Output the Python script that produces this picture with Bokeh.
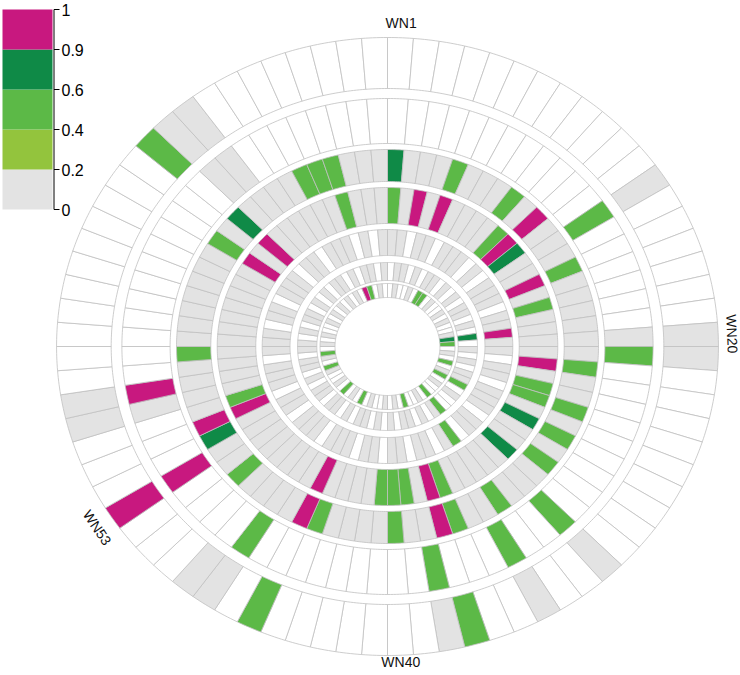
import numpy as np
from bokeh.plotting import figure
from bokeh.models import Range1d, ColumnDataSource
from bokeh.embed import file_html
from bokeh.resources import INLINE
from bokeh.core.properties import value

N = 80
segments = [f"WN{i+1}" for i in range(N)]

# value codes: None = no data (white)
_ = None
g = 0.1    # 0 - 0.2
y = 0.3    # 0.2 - 0.4
G = 0.5    # 0.4 - 0.6
D = 0.75   # 0.6 - 0.9
M = 0.95   # 0.9 - 1

ring1 = [_, _, _, _, _, _, _, _, _, _,
         _, _, g, _, _, _, _, _, _, g,
         g, _, _, _, _, _, _, _, _, _,
         g, _, _, g, _, _, G, g, _, _,
         _, _, _, _, _, G, _, g, g, _,
         _, _, M, _, _, _, g, g, _, _,
         _, _, _, _, _, _, _, _, _, G,
         g, g, _, _, _, _, _, _, _, _]
ring2 = [_, _, _, _, _, _, _, _, _, _,
         _, _, G, _, _, _, _, _, _, g,
         G, _, _, _, _, _, _, _, _, _,
         G, _, _, G, _, _, _, G, _, _,
         _, _, _, _, _, _, _, G, _, _,
         _, _, M, _, _, _, g, M, _, _,
         _, _, _, _, _, _, _, _, _, _,
         g, g, _, _, _, _, _, _, _, _]
ring3 = [D, g, g, g, G, g, g, g, G, g,
         M, g, g, g, G, g, g, g, g, g,
         g, G, g, g, G, g, G, g, G, g,
         g, g, G, g, g, G, M, g, g, G,
         g, g, g, g, G, M, g, g, g, g,
         G, g, g, D, M, g, g, g, g, G,
         g, g, g, g, g, g, g, G, g, D,
         g, g, g, g, G, G, G, g, g, g]
ring4 = [G, g, M, g, M, g, g, g, g, G,
         M, D, g, g, M, g, G, g, g, g,
         g, M, g, G, G, g, D, g, g, D,
         g, g, g, g, g, G, M, g, G, G,
         G, g, g, g, g, M, g, g, g, g,
         g, g, g, g, M, G, g, g, g, g,
         g, g, g, g, g, g, g, M, g, M,
         g, g, g, g, g, g, G, g, g, g]
ring5 = [g, g, _, g, g, _, g, g, g, _,
         g, _, g, g, g, _, g, g, M, g,
         g, _, g, g, _, g, g, g, _, g,
         g, _, G, g, _, g, g, _, g, g,
         _, g, g, _, g, g, g, _, g, g,
         g, _, g, g, _, g, g, g, _, g,
         g, g, _, g, g, _, g, g, g, _,
         g, g, _, g, g, g, _, g, _, g]
ring6 = [_, g, g, _, g, _, g, g, _, g,
         _, g, _, g, g, _, g, _, D, _,
         g, _, g, _, g, g, G, _, g, _,
         _, G, g, _, g, _, g, g, _, g,
         _, g, _, g, g, _, g, _, g, g,
         _, g, g, _, g, _, g, g, _, g,
         g, _, g, _, g, g, _, g, _, g,
         _, g, g, _, g, _, g, g, _, g]
ring7 = [_, g, _, _, g, _, G, G, _, g,
         _, _, g, _, g, _, _, g, D, G,
         _, g, _, G, _, g, G, _, g, _,
         _, G, _, g, _, _, G, _, g, _,
         g, _, _, g, _, G, _, g, _, G,
         _, g, _, _, g, G, _, g, G, _,
         g, _, g, _, _, g, _, g, _, g,
         _, g, _, g, _, M, G, _, g, _]
rings = [ring1, ring2, ring3, ring4, ring5, ring6, ring7]

label_idx = [0, 19, 39, 52]

legend_stops = [0, 0.2, 0.4, 0.6, 0.9, 1]
palette = ["#e3e3e3", "#93c43d", "#5cb947", "#0f8a47", "#c8187f"]

# layout (vertical pixel units; horizontal stretched by sx)
r_in = [258, 203, 165, 123, 91, 66, 49]
r_out = [309, 248, 197, 159, 117, 84, 63]
label_r = [324, 322, 316, 326]
sx = 1.071
cx, cy = 387, 346
W_PX, H_PX = 740, 675


def color_of(v):
    if v is None:
        return "#ffffff"
    for i in range(len(palette)):
        if v < legend_stops[i + 1] or i == len(palette) - 1:
            return palette[i]


xs, ys, cols = [], [], []
step = 360.0 / N
for ri, vals in enumerate(rings):
    for k, v in enumerate(vals):
        t = np.radians(np.linspace(k * step, (k + 1) * step, 8))
        a, b = r_out[ri], r_in[ri]
        px = np.concatenate([a * np.sin(t), b * np.sin(t[::-1])])
        py = np.concatenate([a * np.cos(t), b * np.cos(t[::-1])])
        xs.append(px.tolist())
        ys.append(py.tolist())
        cols.append(color_of(v))

p = figure(width=W_PX, height=H_PX, output_backend="svg", toolbar_location=None,
           x_range=Range1d((0 - cx) / sx, (W_PX - cx) / sx),
           y_range=Range1d(cy - H_PX, cy),
           x_axis_type=None, y_axis_type=None, min_border=0)
p.outline_line_color = None
p.grid.visible = False

src = ColumnDataSource(dict(xs=xs, ys=ys, c=cols))
p.patches("xs", "ys", source=src, fill_color="c", line_color="#c0c0c0", line_width=0.8)

# segment labels
lx, ly, lt, la = [], [], [], []
for j, k in enumerate(label_idx):
    deg = (k + 0.5) * step
    th = np.radians(deg)
    lx.append(label_r[j] * np.sin(th))
    ly.append(label_r[j] * np.cos(th))
    lt.append(segments[k])
    rot = -deg
    if 100 < deg < 260:
        rot += 180
    if deg < 5 or abs(deg - 180) < 5:
        rot = 0
    la.append(np.radians(rot))
p.text(lx, ly, text=lt, angle=la, text_align="center", text_baseline="middle",
       text_font=value("Liberation Sans"), text_font_size="14px", text_color="#111111")

# colour legend in page-pixel space
p.extra_x_ranges = {"px": Range1d(0, W_PX)}
p.extra_y_ranges = {"py": Range1d(H_PX, 0)}
nb = len(palette)
bl, br, bt, bb = [], [], [], []
for i in range(nb):
    bl.append(2); br.append(52)
    bb.append(209 - 40 * i); bt.append(209 - 40 * (i + 1))
p.quad(left=bl, right=br, top=bt, bottom=bb, fill_color=palette, line_color=None,
       x_range_name="px", y_range_name="py")
ty = [209 - 40 * i for i in range(len(legend_stops))]
p.segment(x0=[53.5], y0=[209], x1=[53.5], y1=[9], line_color="black", line_width=1,
          x_range_name="px", y_range_name="py")
p.segment(x0=[53.5] * len(ty), y0=ty, x1=[59] * len(ty), y1=ty, line_color="black",
          line_width=1, x_range_name="px", y_range_name="py")
p.text([61] * len(ty), ty, text=[str(s) for s in legend_stops], text_align="left",
       text_baseline="middle", text_font=value("Liberation Sans"), text_font_size="16px",
       text_color="black", x_range_name="px", y_range_name="py")

open("out.html", "w").write(file_html(p, INLINE))
